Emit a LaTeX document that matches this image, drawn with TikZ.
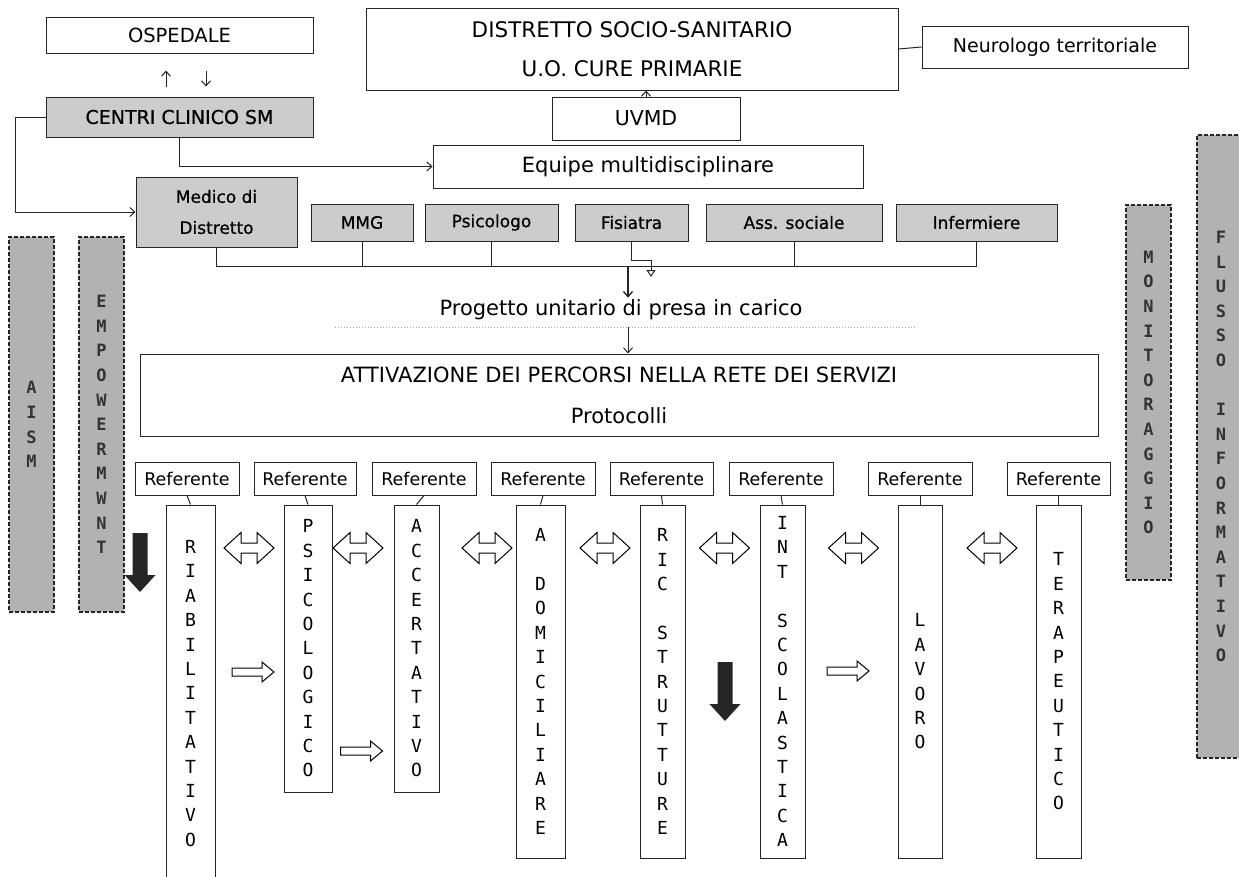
\documentclass[tikz,border=0pt]{standalone}
\usepackage{fontspec}
\setmainfont{DejaVu Sans}
\newfontfamily\monof{DejaVu Sans Mono}
\newfontfamily\grayf{DejaVu Sans}[FakeBold=0.8]
\usetikzlibrary{arrows.meta}
\newcommand{\fsz}[2]{\fontsize{#1}{#2}\selectfont}
\begin{document}
\begin{tikzpicture}[x=1pt,y=-1pt,
  box/.style={draw=black!85, line width=1pt, inner sep=0pt, align=center, text=black},
  graybox/.style={box, fill=gray!40, font=\grayf\fsz{17}{31}},
  barbox/.style={draw=black!85, dash pattern=on 4pt off 2pt, line width=1.4pt, fill=gray!60, inner sep=0pt, align=center, font=\monof\bfseries\fsz{17}{24.6}, text=black!80, minimum width=45pt},
  colbox/.style={box, font=\monof\fsz{18}{24.4}},
  refbox/.style={box, font=\fsz{17.5}{20}, minimum height=33pt},
  conn/.style={draw=black!85, line width=1pt},
  arr/.style={conn, -{Straight Barb[length=5pt,width=9pt]}},
  dbl/.pic={\draw[line width=1pt, fill=white] (-25,0) -- (-8,-15.5) -- (-8,-5) -- (8,-5) -- (8,-15.5) -- (25,0) -- (8,15.5) -- (8,5) -- (-8,5) -- (-8,15.5) -- cycle;},
  sgl/.pic={\draw[line width=1pt, fill=white] (-21,-4) -- (9,-4) -- (9,-10) -- (21,0) -- (9,10) -- (9,4) -- (-21,4) -- cycle;},
  blk/.pic={\fill[black!85] (-7.5,0) -- (7.5,0) -- (7.5,42) -- (15.5,42) -- (0,59) -- (-15.5,42) -- (-7.5,42) -- cycle;}
]
\useasboundingbox (0,0) rectangle (1239,876);
\fill[white] (0,0) rectangle (1239,876);
\clip (0,0) rectangle (1239,876);

% side bars
\node[barbox, minimum height=375pt] (aism) at (31.5,424.5) {A\\I\\S\\M};
\node[barbox, minimum height=375pt] (emp) at (101.5,424.5) {E\\M\\P\\O\\W\\E\\R\\M\\W\\N\\T};
\node[barbox, minimum height=375pt] (mon) at (1148.5,392.5) {M\\O\\N\\I\\T\\O\\R\\A\\G\\G\\I\\O};
\node[barbox, minimum width=48pt, minimum height=623pt] (flu) at (1221,446.5) {F\\L\\U\\S\\S\\O\\\mbox{}\\I\\N\\F\\O\\R\\M\\A\\T\\I\\V\\O};

% top part
\node[box, font=\fsz{19.5}{24}, minimum width=267pt, minimum height=36pt] (ospedale) at (179.5,35) {OSPEDALE};
\node[graybox, font=\grayf\fsz{19}{24}, minimum width=267pt, minimum height=40pt] (centri) at (179.5,117) {CENTRI CLINICO SM};
\node[box, font=\fsz{21.5}{39}, minimum width=532pt, minimum height=82pt] (distretto) at (632,49) {DISTRETTO SOCIO-SANITARIO\\U.O. CURE PRIMARIE};
\node[box, font=\fsz{19}{24}, minimum width=266pt, minimum height=42pt] (neuro) at (1055,47) {Neurologo territoriale};
\node[box, font=\fsz{20.5}{24}, minimum width=188pt, minimum height=43pt] (uvmd) at (646,118.5) {UVMD};
\node[box, font=\fsz{21}{24}, minimum width=430pt, minimum height=43pt] (equipe) at (648,166.5) {Equipe multidisciplinare};

\node[graybox, minimum width=161pt, minimum height=70pt] (medico) at (216.5,212) {Medico di\\Distretto};
\node[graybox, minimum width=102pt, minimum height=37pt] (mmg) at (362,222.5) {MMG};
\node[graybox, minimum width=133pt, minimum height=37pt] (psi) at (491.5,222.5) {Psicologo};
\node[graybox, minimum width=113pt, minimum height=37pt] (fis) at (631.5,222.5) {Fisiatra};
\node[graybox, minimum width=176pt, minimum height=37pt] (ass) at (794,222.5) {Ass. sociale};
\node[graybox, minimum width=161pt, minimum height=37pt] (inf) at (976.5,222.5) {Infermiere};

\node[font=\fsz{21}{24}, inner sep=2pt] (progetto) at (621,310) {Progetto unitario di presa in carico};
\node[box, font=\fsz{21}{41}, minimum width=958pt, minimum height=82pt] (attiv) at (619,395) {ATTIVAZIONE DEI PERCORSI NELLA RETE DEI SERVIZI\\Protocolli};

% connectors top
\coordinate (ua) at (166,0);
\coordinate (da) at (206,0);
\draw[arr, shorten <=10pt, shorten >=17pt] (centri.north -| ua) -- (ospedale.south -| ua);
\draw[arr, shorten <=17pt, shorten >=10pt] (ospedale.south -| da) -- (centri.north -| da);
\draw[conn] (distretto.east) -- (neuro.west);
\draw[arr] (uvmd.north) -- (uvmd.north |- distretto.south);
\draw[arr] (centri.south) |- (equipe.west);
\coordinate (lft) at (15,0);
\draw[arr] (centri.west) -- (centri.west -| lft) |- (medico.west);

% bus
\coordinate (busL) at (628,266);
\draw[conn] (medico.south) |- (busL);
\draw[conn] (mmg.south) |- (busL);
\draw[conn] (psi.south) |- (busL);
\draw[conn] (ass.south) |- (busL);
\draw[conn] (inf.south) |- (busL);
\draw[arr, line width=1.4pt] (busL) -- (busL |- progetto.north);
\coordinate (fj) at (651,260);
\coordinate (ft) at (651,277);
\draw[conn, -{Triangle[open,length=7pt,width=9pt]}] (fis.south) |- (fj) -- (ft);

\coordinate (dotL) at (335,327);
\coordinate (dotR) at (915,327);
\draw[gray!70, line width=1pt, dotted] (dotL) -- (dotR);
\draw[arr] (busL |- dotL) -- (busL |- attiv.north);

% referenti
\foreach \n/\cx/\w in {1/187/104, 2/305/102, 3/424/104, 4/543/104, 5/661.5/103, 6/781/104, 7/920/104, 8/1058.5/103}{
  \node[refbox, minimum width=\w pt] (ref\n) at (\cx,478.5) {Referente};
}

% columns
\node[colbox, minimum width=49pt, minimum height=377pt] (c1) at (190.5,693.5) {R\\I\\A\\B\\I\\L\\I\\T\\A\\T\\I\\V\\O};
\node[colbox, minimum width=48pt, minimum height=287pt] (c2) at (308,648.5) {P\\S\\I\\C\\O\\L\\O\\G\\I\\C\\O};
\node[colbox, minimum width=45pt, minimum height=287pt] (c3) at (416.5,648.5) {A\\C\\C\\E\\R\\T\\A\\T\\I\\V\\O};
\node[colbox, minimum width=49pt, minimum height=353pt] (c4) at (540.5,681.5) {A\\\mbox{}\\D\\O\\M\\I\\C\\I\\L\\I\\A\\R\\E};
\node[colbox, minimum width=45pt, minimum height=353pt] (c5) at (662.5,681.5) {R\\I\\C\\\mbox{}\\S\\T\\R\\U\\T\\T\\U\\R\\E};
\node[colbox, minimum width=45pt, minimum height=353pt] (c6) at (782.5,681.5) {I\\N\\T\\\mbox{}\\S\\C\\O\\L\\A\\S\\T\\I\\C\\A};
\node[colbox, minimum width=44pt, minimum height=353pt] (c7) at (920,681.5) {L\\A\\V\\O\\R\\O};
\node[colbox, minimum width=45pt, minimum height=353pt] (c8) at (1058.5,681.5) {T\\E\\R\\A\\P\\E\\U\\T\\I\\C\\O};

\foreach \n in {1,...,8}{
  \draw[conn] (ref\n.south) -- (c\n.north);
}

% block arrows
\pic at (249,548) {dbl};
\pic at (358,548) {dbl};
\pic at (487,548) {dbl};
\pic at (605,548) {dbl};
\pic at (724.5,548) {dbl};
\pic at (853.5,548) {dbl};
\pic at (992,548) {dbl};
\pic at (253,672) {sgl};
\pic at (361.5,751) {sgl};
\pic at (848,671) {sgl};
\pic at (140,533) {blk};
\pic at (725,662) {blk};
\end{tikzpicture}
\end{document}
